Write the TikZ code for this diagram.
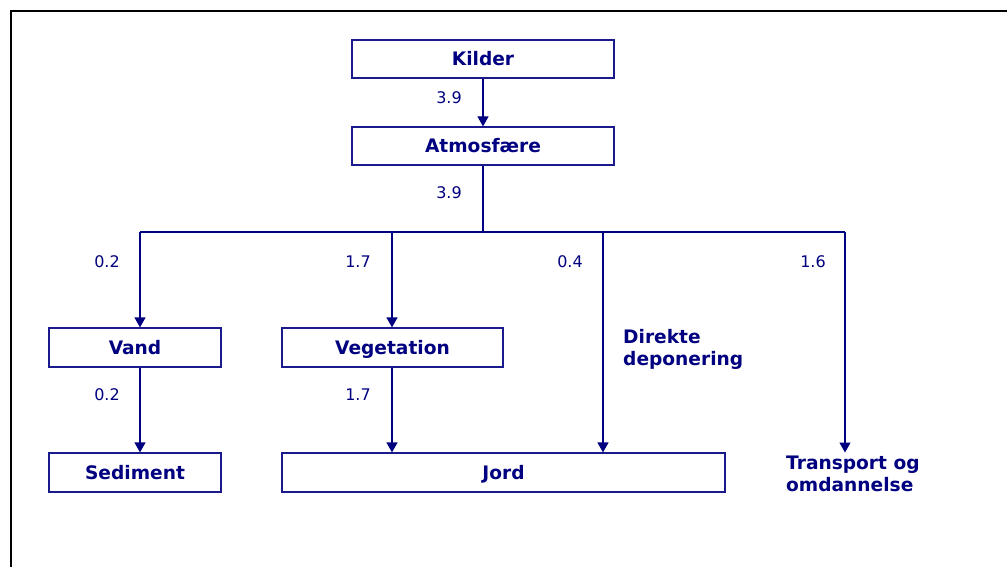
\documentclass[tikz,border=0pt]{standalone}
\usepackage{fontspec}
\setmainfont{DejaVu Sans}
\usetikzlibrary{arrows.meta}
\definecolor{navy}{HTML}{000080}
\definecolor{boxline}{HTML}{1A1A8C}
\tikzset{
  box/.style={draw=boxline, line width=1.2pt, fill=white, inner sep=0pt, text=navy,
    text height=13.4pt, text depth=0pt,
    font=\fontsize{18.6}{22}\selectfont\bfseries},
  num/.style={text=navy, inner sep=0pt, font=\fontsize{16}{19}\selectfont},
  freetext/.style={text=navy, inner sep=0pt, align=left, anchor=west,
    font=\fontsize{18.6}{22}\selectfont\bfseries},
  flow/.style={draw=navy, line width=1.2pt},
  arr/.style={flow, -{Triangle[length=10pt,width=11pt]}}
}
\begin{document}
\begin{tikzpicture}[x=1pt,y=-1pt]
\useasboundingbox (0,0) rectangle (1007,567);
\clip (0,0) rectangle (1007,567);
\fill[white] (0,0) rectangle (1007,567);
\draw[black, line width=2.2pt] (11,11) rectangle (1020,580);

\node[box, minimum width=262pt, minimum height=38pt] (kilder) at (483,59) {Kilder};
\node[box, minimum width=262pt, minimum height=38pt] (atmos) at (483,146) {Atmosfære};
\node[box, minimum width=172pt, minimum height=39pt] (vand) at (135,347.5) {Vand};
\node[box, minimum width=221pt, minimum height=39pt] (veg) at (392.5,347.5) {Vegetation};
\node[box, minimum width=172pt, minimum height=39pt] (sed) at (135,472.5) {Sediment};
\node[box, minimum width=443pt, minimum height=39pt] (jord) at (503.5,472.5) {Jord};
\node[freetext] (direkte) at (623,349) {Direkte\\deponering};
\node[freetext] (transport) at (786,474) {Transport og\\omdannelse};

\coordinate (junc) at (483,232);
\coordinate (bvand) at (140,232);
\coordinate (bveg) at (392,232);
\coordinate (bdir) at (603,232);
\coordinate (btr) at (845,232);
\coordinate (trend) at (845,452.5);

\draw[arr] (kilder.south) -- (atmos.north);
\draw[flow] (atmos.south) -- (junc);
\draw[flow] (bvand) -- (btr);
\draw[arr] (bvand) -- (bvand |- vand.north);
\draw[arr] (bveg) -- (bveg |- veg.north);
\draw[arr] (bdir) -- (bdir |- jord.north);
\draw[arr] (btr) -- (trend);
\draw[arr] (bvand |- vand.south) -- (bvand |- sed.north);
\draw[arr] (bveg |- veg.south) -- (bveg |- jord.north);

\node[num] (n1) at (449,98) {3.9};
\node[num] (n2) at (449,193) {3.9};
\node[num] (n3) at (107,262) {0.2};
\node[num] (n4) at (358,262) {1.7};
\node[num] (n5) at (570,262) {0.4};
\node[num] (n6) at (813,262) {1.6};
\node[num] (n7) at (107,395) {0.2};
\node[num] (n8) at (358,395) {1.7};
\end{tikzpicture}
\end{document}
